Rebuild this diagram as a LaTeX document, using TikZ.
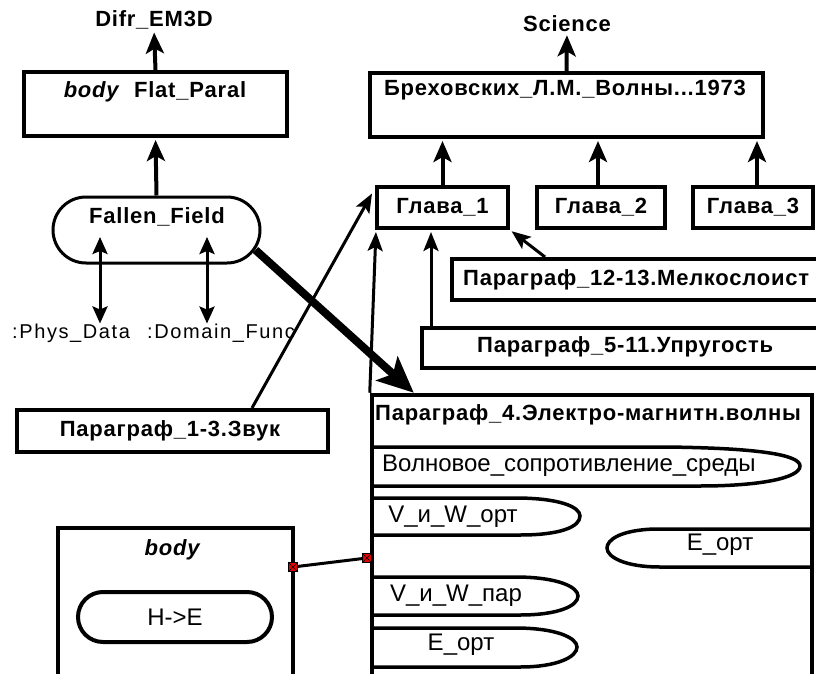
\documentclass[tikz,border=0pt]{standalone}
\usepackage{fontspec}
\setmainfont{Liberation Sans}
\usetikzlibrary{arrows.meta}

\tikzset{
  bx/.style={draw, line width=4pt, inner sep=0pt},
  lbl/.style={font=\bfseries\fontsize{22}{22}\selectfont\addfontfeatures{LetterSpace=3.5}, inner sep=0pt},
  txt/.style={font=\fontsize{24}{24}\selectfont, inner sep=0pt},
  small/.style={font=\fontsize{20}{20}\selectfont\addfontfeatures{LetterSpace=8}, inner sep=0pt},
  arr/.style={line width=4pt, -{Stealth[length=21pt,width=18pt,inset=5pt]}},
  thinarr/.style={line width=3pt, -{Stealth[length=19pt,width=15pt,inset=4pt]}},
  both/.style={line width=3pt, {Stealth[length=17pt,width=15pt,inset=3pt]}-{Stealth[length=17pt,width=15pt,inset=3pt]}},
  heavy/.style={line width=8pt, -{Stealth[length=36pt,width=32pt,inset=8pt]}},
  lens/.style={line width=3.5pt},
  port/.style={draw=black, fill=red!90!black, line width=0.8pt, minimum size=9pt, inner sep=0pt}
}

\begin{document}
\begin{tikzpicture}[x=1pt,y=-1pt]
\useasboundingbox (0,0) rectangle (816,674);

% ---- left column: body Flat_Paral ----
\node[lbl] (difr) at (154,20) {Difr\_EM3D};
\node[bx, minimum width=263pt, minimum height=64pt] (flat) at (155.5,104) {};
\node[lbl] (flatT) at (155,92) {\textit{body}\ \ Flat\_Paral};
\draw[arr, shorten >=3pt] (flat.north) -- (difr.south);

\node[draw, line width=3pt, minimum width=207pt, minimum height=66pt, rounded corners=33pt, inner sep=0pt] (ff) at (156.5,230) {};
\node[lbl] (ffT) at (157,217) {Fallen\_Field};
\draw[arr, shorten >=2pt] (ff.north) -- (flat.south);

\node[small, anchor=west] (phys) at (12,333) {:Phys\_Data};
\node[small, anchor=west] (dom) at (147,333) {:Domain\_Func};
\draw[both] ([shift={(-56.5,7)}]ff.center) -- (phys.north -| 100,0);
\draw[both] ([shift={(50.5,7)}]ff.center) -- (dom.north -| 207,0);

% ---- the book and its chapters ----
\node[lbl] (sci) at (567,24) {Science};
\node[bx, minimum width=393pt, minimum height=64pt] (brek) at (566.5,105) {};
\node[lbl] (brekT) at (565,90) {Бреховских\_Л.М.\_Волны...1973};
\draw[arr, shorten >=3pt] (brek.north) -- (sci.south);

\node[bx, minimum width=131pt, minimum height=41pt] (g1) at (442.5,207.5) {};
\node[lbl] (g1T) at (442.5,207) {Глава\_1};
\node[bx, minimum width=128pt, minimum height=41pt] (g2) at (601,207.5) {};
\node[lbl] (g2T) at (601,207) {Глава\_2};
\node[bx, minimum width=120pt, minimum height=41pt] (g3) at (753,207.5) {};
\node[lbl] (g3T) at (753,207) {Глава\_3};

\draw[arr, shorten >=2pt] (g1.north) -- (g1.north |- brek.south);
\draw[arr, shorten >=2pt] ([xshift=-3pt]g2.north) -- ([xshift=-3pt]g2.north |- brek.south);
\draw[arr, shorten >=2pt] ([xshift=4pt]g3.north) -- ([xshift=4pt]g3.north |- brek.south);

% ---- paragraphs ----
\node[bx, minimum width=388pt, minimum height=41pt] (p1213) at (646,279.5) {};
\node[lbl, anchor=west] (p1213T) at (463,280) {Параграф\_12-13.Мелкослоист};
\node[bx, minimum width=418pt, minimum height=40pt] (p511) at (631,348) {};
\node[lbl, anchor=west] (p511T) at (477,347) {Параграф\_5-11.Упругость};
\node[bx, minimum width=311pt, minimum height=42pt] (p13) at (172.5,431) {};
\node[lbl] (p13T) at (170,431) {Параграф\_1-3.Звук};

\draw[thinarr, shorten >=2pt] ([xshift=-101pt]p1213.north) -- (g1.south east);
\draw[thinarr, shorten >=2pt] ([xshift=11pt]p511.north west) -- ([xshift=11pt]p511.north west |- g1.south);
\draw[thinarr] ([xshift=79.5pt]p13.north) -- ([shift={(-3,-14)}]g1.west);

% ---- Paragraph 4 with its members ----
\node[draw, line width=4.5pt, minimum width=440pt, minimum height=305pt, inner sep=0pt] (p4) at (592,547.5) {};
\node[lbl, anchor=west] (p4T) at (375,415) {Параграф\_4.Электро-магнитн.волны};
\draw[thinarr, shorten >=2pt] (p4.north west) -- ([xshift=1pt]g1.south west);
\draw[heavy] ([shift={(-6,20)}]ff.east) -- ([xshift=44pt]p4.north west);

\draw[lens] (372,447) -- (665,447) .. controls (760,448) and (800,455) .. (800,466)
  .. controls (800,478) and (760,486) .. (700,486) -- (372,486);
\node[txt, anchor=west] (w1) at (382,466) {Волновое\_сопротивление\_среды};

\draw[lens] (372,498) -- (515,498) .. controls (560,498) and (580,507) .. (580,516)
  .. controls (580,527) and (560,535) .. (520,535) -- (372,535);
\node[txt] (w2) at (453,517) {V\_и\_W\_орт};

\draw[lens] (812,529) -- (655,529) .. controls (620,530) and (607,540) .. (607,548)
  .. controls (607,557) and (625,567) .. (660,567) -- (812,567);
\node[txt] (w3) at (720,545) {E\_орт};

\draw[lens] (372,577) -- (515,577) .. controls (558,577) and (578,587) .. (578,596)
  .. controls (578,606) and (558,615) .. (520,615) -- (372,615);
\node[txt] (w4) at (456,596) {V\_и\_W\_пар};

\draw[lens] (372,628) -- (515,628) .. controls (557,628) and (577,638) .. (577,647)
  .. controls (577,657) and (557,667) .. (520,667) -- (372,667);
\node[txt] (w5) at (461,645) {E\_орт};

% ---- body with H->E ----
\node[bx, minimum width=235pt, minimum height=174pt] (bd) at (175.5,615) {};
\node[lbl] (bdT) at (173,550) {\textit{body}};
\node[draw, line width=4pt, minimum width=194pt, minimum height=50pt, rounded corners=25pt, inner sep=0pt] (he) at (175,617) {};
\node[txt] (heT) at (175,617) {H->E};

% ---- ports and the link between them ----
\node[port] (pa) at (293,567) {};
\node[port] (pb) at (367,558) {};
\draw[line width=3pt] (pa) -- (pb);
\foreach \p in {pa,pb}{
  \draw[line width=0.5pt] (\p.north west) -- (\p.south east) (\p.north east) -- (\p.south west);
}
\end{tikzpicture}
\end{document}
